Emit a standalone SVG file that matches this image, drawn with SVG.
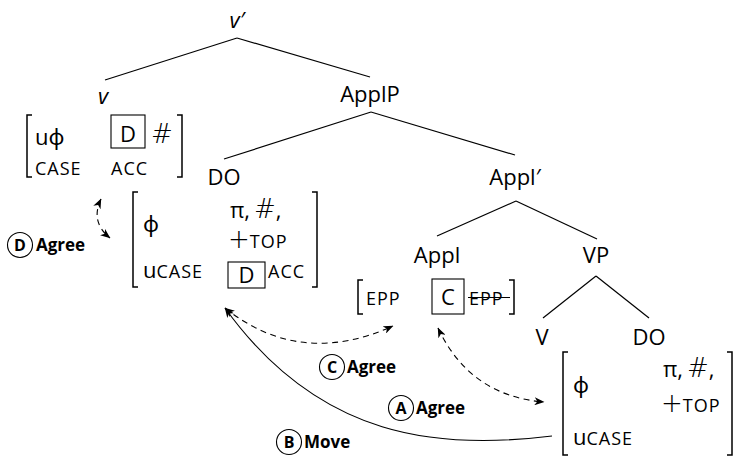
<svg xmlns="http://www.w3.org/2000/svg" width="740" height="460" viewBox="0 0 740 460">
  <style>
    text { font-family: "Open Sans", "Noto Sans", sans-serif; fill: #000; }
    .lbl { font-size: 22px; text-anchor: middle; }
    .it { font-style: italic; }
    .f { font-size: 22px; }
    .sc { font-size: 18px; letter-spacing: 1px; }
    .math { font-family: "DejaVu Sans", sans-serif; font-weight: 200; font-size: 26px; }
    .bold { font-size: 17px; font-weight: bold; }
    .ltr { font-size: 16px; font-weight: bold; text-anchor: middle; }
    .edge { stroke: #000; stroke-width: 1.2; fill: none; }
    .brk { stroke: #000; stroke-width: 1.5; fill: none; }
    .box { stroke: #000; stroke-width: 1.1; fill: none; }
    .circ { stroke: #000; stroke-width: 1.1; fill: #fff; }
    .arr { stroke: #000; stroke-width: 1.1; fill: none; }
    .dash { stroke-dasharray: 6 4.5; }
  </style>
  <defs>
    <marker id="ah" viewBox="0 0 10 8" refX="9.5" refY="4" markerWidth="10" markerHeight="8" markerUnits="userSpaceOnUse" orient="auto-start-reverse">
      <path d="M0,0 L10,4 L0,8 L2.8,4 z" fill="#000" stroke="none"/>
    </marker>
  </defs>

  <!-- tree edges -->
  <g id="edges">
    <line class="edge" x1="237" y1="38" x2="105" y2="80"/>
    <line class="edge" x1="237" y1="38" x2="370" y2="77"/>
    <line class="edge" x1="371" y1="112" x2="224" y2="159"/>
    <line class="edge" x1="371" y1="112" x2="515" y2="155"/>
    <line class="edge" x1="516" y1="201" x2="437" y2="236"/>
    <line class="edge" x1="516" y1="201" x2="597" y2="239"/>
    <line class="edge" x1="596" y1="276" x2="543" y2="318"/>
    <line class="edge" x1="596" y1="276" x2="649" y2="318"/>
  </g>

  <!-- v' root -->
  <g id="vbar">
    <text class="lbl it" x="237" y="28">v′</text>
  </g>

  <!-- v head with its feature matrix -->
  <g id="v">
    <text class="lbl it" x="103" y="104">v</text>
    <path class="brk" d="M32,115 H27 V177 H32"/>
    <path class="brk" d="M177,115 H182 V177 H177"/>
    <text class="f" x="35" y="145">uϕ</text>
    <rect class="box" x="111" y="115" width="34" height="33"/>
    <text class="f" x="128" y="142" text-anchor="middle">D</text>
    <text class="math" x="151" y="143">#</text>
    <text class="sc" x="35" y="175">CASE</text>
    <text class="sc" x="111" y="175">ACC</text>
  </g>

  <g id="applp">
    <text class="lbl" x="370" y="102">ApplP</text>
  </g>

  <!-- raised DO with its feature matrix -->
  <g id="do-raised">
    <text class="lbl" x="224" y="185">DO</text>
    <path class="brk" d="M138,192 H133 V287 H138"/>
    <path class="brk" d="M312,192 H317 V287 H312"/>
    <text class="f" x="143" y="232">ϕ</text>
    <text x="230" y="218"><tspan class="f">π,</tspan><tspan class="math" dx="4">#</tspan><tspan class="f">,</tspan></text>
    <text x="228" y="248"><tspan class="math">+</tspan><tspan class="sc">TOP</tspan></text>
    <text x="143" y="278"><tspan class="f">u</tspan><tspan class="sc">CASE</tspan></text>
    <rect class="box" x="228" y="262" width="37" height="26"/>
    <text class="f" x="246.5" y="283" text-anchor="middle">D</text>
    <text class="sc" x="268" y="278">ACC</text>
  </g>

  <g id="applbar">
    <text class="lbl" x="515" y="185">Appl′</text>
  </g>

  <!-- Appl head with its feature matrix -->
  <g id="appl">
    <text class="lbl" x="437" y="263">Appl</text>
    <path class="brk" d="M363,280 H358 V314 H363"/>
    <path class="brk" d="M509,280 H514 V314 H509"/>
    <text class="sc" x="366" y="305">EPP</text>
    <rect class="box" x="432" y="279" width="32" height="35"/>
    <text class="f" x="448" y="305" text-anchor="middle">C</text>
    <text class="sc" x="469" y="305">EPP</text>
    <line x1="468" y1="297.5" x2="510" y2="297.5" stroke="#000" stroke-width="1.2"/>
  </g>

  <g id="vp">
    <text class="lbl" x="596" y="263">VP</text>
  </g>

  <g id="verb">
    <text class="lbl" x="542" y="345">V</text>
  </g>

  <!-- base DO with its feature matrix -->
  <g id="do-base">
    <text class="lbl" x="649" y="345">DO</text>
    <path class="brk" d="M568,352 H563 V455 H568"/>
    <path class="brk" d="M727,352 H732 V455 H727"/>
    <text class="f" x="573" y="393">ϕ</text>
    <text x="663" y="377"><tspan class="f">π,</tspan><tspan class="math" dx="4">#</tspan><tspan class="f">,</tspan></text>
    <text x="661" y="412"><tspan class="math">+</tspan><tspan class="sc">TOP</tspan></text>
    <text x="573" y="445"><tspan class="f">u</tspan><tspan class="sc">CASE</tspan></text>
  </g>

  <!-- Agree / Move connectors -->
  <g id="connectors">
    <path class="arr" d="M552,436 C440,450 320,440 225,308" marker-end="url(#ah)"/>
    <path class="arr dash" d="M225,308 Q300,368 393,326" marker-start="url(#ah)" marker-end="url(#ah)"/>
    <path class="arr dash" d="M438,328 Q470,396 544,402" marker-start="url(#ah)" marker-end="url(#ah)"/>
    <path class="arr dash" d="M101,199 Q90,222 110,238" marker-start="url(#ah)" marker-end="url(#ah)"/>
  </g>

  <!-- step labels -->
  <g id="label-d">
    <circle class="circ" cx="20" cy="245" r="12.5"/>
    <text class="ltr" x="20" y="250.5">D</text>
    <text class="bold" x="36" y="251">Agree</text>
  </g>
  <g id="label-c">
    <circle class="circ" cx="332" cy="367" r="12.5"/>
    <text class="ltr" x="332" y="372.5">C</text>
    <text class="bold" x="347" y="373">Agree</text>
  </g>
  <g id="label-a">
    <circle class="circ" cx="401" cy="408" r="12.5"/>
    <text class="ltr" x="401" y="413.5">A</text>
    <text class="bold" x="416" y="414">Agree</text>
  </g>
  <g id="label-b">
    <circle class="circ" cx="289" cy="442" r="12.5"/>
    <text class="ltr" x="289" y="447.5">B</text>
    <text class="bold" x="304" y="448">Move</text>
  </g>
</svg>
